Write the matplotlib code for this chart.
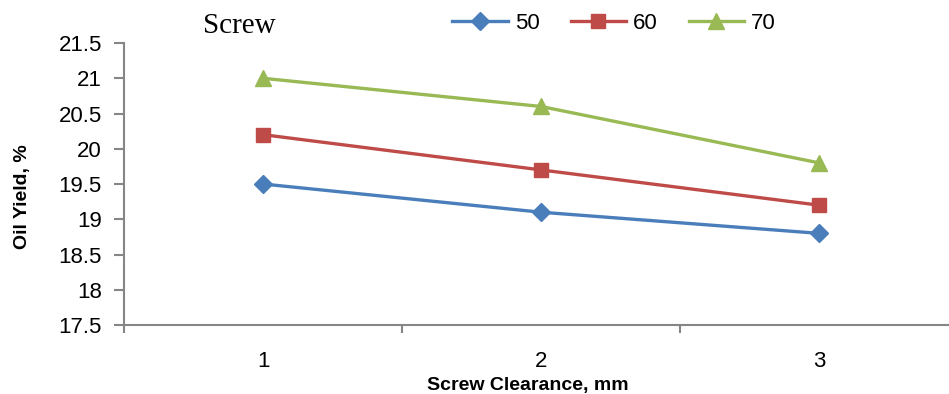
import matplotlib.pyplot as plt
from matplotlib.ticker import FixedLocator, NullFormatter

# data
clearance = [1, 2, 3]
series_names = ["50", "60", "70"]
yield_50 = [19.5, 19.1, 18.8]
yield_60 = [20.2, 19.7, 19.2]
yield_70 = [21.0, 20.6, 19.8]

colors = ["#4a7ebb", "#be4b48", "#98b954"]
markers = ["D", "s", "^"]
msizes = [9.5, 10.5, 12]

axis_grey = "#868686"
sans = ["Liberation Sans", "DejaVu Sans"]

fig = plt.figure(figsize=(9.49, 3.94), dpi=100)
ax = fig.add_axes([0.1307, 0.1751, 0.8788, 0.7157])

for vals, name, c, m, ms in zip([yield_50, yield_60, yield_70], series_names, colors, markers, msizes):
    ax.plot(clearance, vals, color=c, lw=2.4, marker=m, markersize=ms,
            markeredgecolor=c, label=name, clip_on=False)

ax.set_xlim(0.5, 3.5)
ax.set_ylim(17.5, 21.5)
ax.set_yticks([17.5, 18, 18.5, 19, 19.5, 20, 20.5, 21, 21.5])
ax.set_yticklabels(["17.5", "18", "18.5", "19", "19.5", "20", "20.5", "21", "21.5"],
                   fontfamily=sans, fontsize=16)
ax.set_xticks(clearance)
ax.set_xticklabels([str(v) for v in clearance], fontfamily=sans, fontsize=16)
ax.xaxis.set_minor_locator(FixedLocator([0.5, 1.5, 2.5, 3.5]))
ax.xaxis.set_minor_formatter(NullFormatter())
ax.tick_params(axis="x", which="major", length=0, pad=19)
ax.tick_params(axis="x", which="minor", length=6, width=1.5, color=axis_grey, direction="out")
ax.tick_params(axis="y", length=7, width=1.5, color=axis_grey, direction="out", pad=9)

for s in ["top", "right"]:
    ax.spines[s].set_visible(False)
for s in ["left", "bottom"]:
    ax.spines[s].set_color(axis_grey)
    ax.spines[s].set_linewidth(1.5)

fig.text(0.0232, 0.5, "Oil Yield, %", fontfamily=sans, fontweight="bold", fontsize=14,
         rotation=90, ha="center", va="center")
fig.text(0.556, 0.022, "Screw Clearance, mm", fontfamily=sans, fontweight="bold",
         fontsize=14, ha="center", va="center")
fig.text(0.252, 0.934, "Screw", fontfamily=["Liberation Serif", "DejaVu Serif"],
         fontsize=21, ha="center", va="center")

fig.legend(loc="center", bbox_to_anchor=(0.647, 0.941), ncol=3, frameon=False,
           prop={"family": sans, "size": 16}, handlelength=2.5, columnspacing=1.4,
           handletextpad=0.3)

fig.savefig("out.png", dpi=100)
